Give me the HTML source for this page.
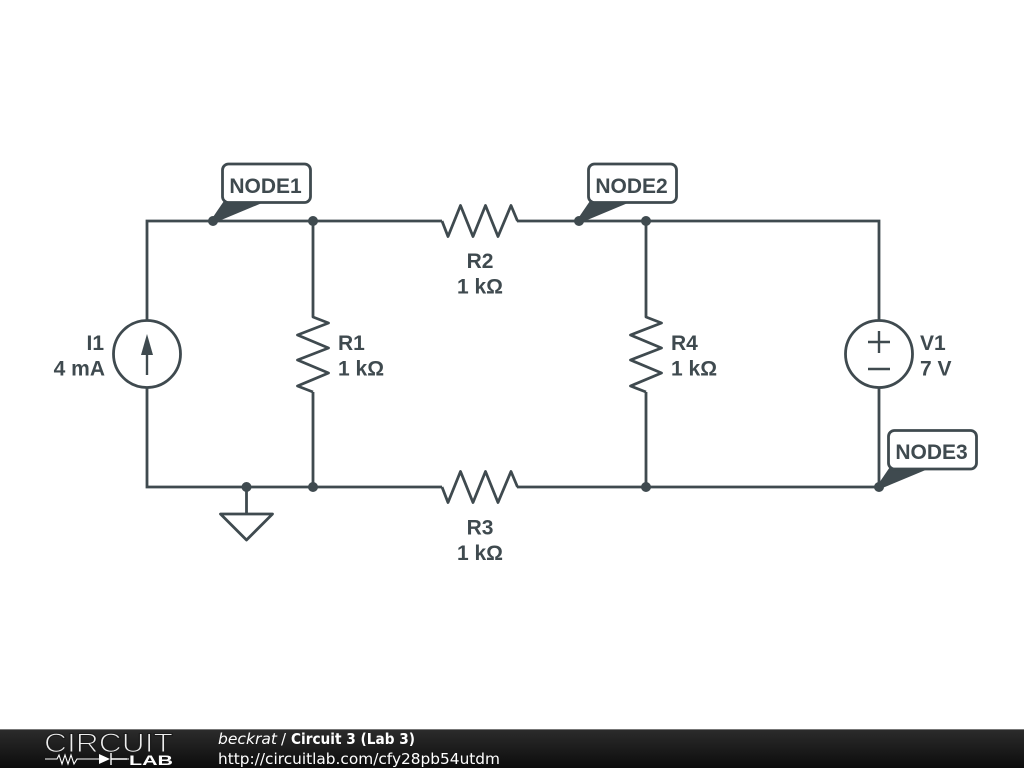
<!DOCTYPE html>
<html>
<head>
<meta charset="utf-8">
<style>
html,body{margin:0;padding:0;background:#fff;width:1024px;height:768px;overflow:hidden}
svg{display:block}
.l{font-family:"Liberation Sans",sans-serif;font-weight:bold;font-size:21px;fill:#3f4a4f}
.f{font-family:"DejaVu Sans",sans-serif;font-size:15px;fill:#fff}
</style>
</head>
<body>
<svg width="1024" height="768" viewBox="0 0 1024 768" xmlns="http://www.w3.org/2000/svg">
<defs>
<linearGradient id="g" x1="0" y1="0" x2="0" y2="1"><stop offset="0" stop-color="#2c2c2c"/><stop offset="1" stop-color="#0c0c0c"/></linearGradient>
</defs>
<rect width="1024" height="768" fill="#fff"/>
<g fill="none" stroke="#3f4a4f" stroke-width="2.800" stroke-linejoin="round">
<path d="M147 320V221H442M517 221H879V320M147 388V487H442M517 487H879V388" stroke-linejoin="miter"/>
<path d="M313 221V316M313 392V487M646 221V316M646 392V487"/>
<path d="M442 221L448 236.500L460.500 205.500L473 236.500L485.500 205.500L498 236.500L511 205.500L517.500 221"/>
<path d="M442 487L448 502.500L460.500 471.500L473 502.500L485.500 471.500L498 502.500L511 471.500L517.500 487"/>
<path d="M313 316V317L328.500 323L297.500 335L328.500 348L297.500 360L328.500 373L297.500 386L313 392"/>
<path d="M646 316V317L661.500 323L630.500 335L661.500 348L630.500 360L661.500 373L630.500 386L646 392"/>
<circle cx="147" cy="354" r="33.500"/>
<circle cx="879" cy="354" r="33.500"/>
<path d="M879 331V353M868 342H890M868 369H890" stroke-width="2.400"/>
<path d="M147 375V345" stroke-width="2.400"/>
<path d="M246.500 487V514M220.500 514H272.500L246.500 540Z"/>
</g>
<path d="M147 334L141 355H153Z" fill="#3f4a4f"/>
<g fill="#3f4a4f">
<circle cx="213" cy="221" r="5"/><circle cx="313" cy="221" r="5"/>
<circle cx="579" cy="221" r="5"/><circle cx="646" cy="221" r="5"/>
<circle cx="246.500" cy="487" r="5"/><circle cx="313" cy="487" r="5"/>
<circle cx="646" cy="487" r="5"/><circle cx="879" cy="487" r="5"/>
<path d="M211 220L226 198H274L214 223Z"/><path d="M577 220L592 198H640L580 223Z"/><path d="M877 486L892 464H940L880 489Z"/>
</g>
<g fill="#fff" stroke="#3f4a4f" stroke-width="2.800">
<rect x="222.500" y="164" width="88" height="38.500" rx="6"/>
<rect x="588.500" y="164" width="88" height="38.500" rx="6"/>
<rect x="888.500" y="430.500" width="88" height="38.500" rx="6"/>
</g>
<text class="l" x="265.500" y="193" text-anchor="middle">NODE1</text>
<text class="l" x="631.500" y="193" text-anchor="middle">NODE2</text>
<text class="l" x="931.500" y="459" text-anchor="middle">NODE3</text>
<text class="l" x="480" y="268" text-anchor="middle">R2</text>
<text class="l" x="480" y="293.500" text-anchor="middle">1 kΩ</text>
<text class="l" x="480" y="534.500" text-anchor="middle">R3</text>
<text class="l" x="480" y="560" text-anchor="middle">1 kΩ</text>
<text class="l" x="338" y="350">R1</text>
<text class="l" x="338" y="375.500">1 kΩ</text>
<text class="l" x="671" y="350">R4</text>
<text class="l" x="671" y="375.500">1 kΩ</text>
<text class="l" x="104" y="350" text-anchor="end">I1</text>
<text class="l" x="105" y="375.500" text-anchor="end">4 mA</text>
<text class="l" x="920" y="350">V1</text>
<text class="l" x="920" y="375.500">7 V</text>
<rect x="0" y="729" width="1024" height="39" fill="url(#g)"/>
<rect x="0" y="729" width="1024" height="1" fill="#777"/>
<text x="44" y="752" font-family="'Liberation Sans',sans-serif" font-size="26.500" fill="#eee" stroke="#1c1c1c" stroke-width="1.100" textLength="129" lengthAdjust="spacingAndGlyphs">CIRCUIT</text>
<path d="M45 759H57L59 755L62 764L65 755L68 764L71 755L74 764L77 759H99M127 759H129" fill="none" stroke="#fff" stroke-width="1.100"/>
<path d="M99 754V764L110 759Z" fill="#fff"/>
<path d="M111 753V765M111 759H127" stroke="#fff" stroke-width="1.400" fill="none"/>
<text x="129" y="765" font-family="'Liberation Sans',sans-serif" font-size="14" font-weight="bold" fill="#fff" textLength="44" lengthAdjust="spacingAndGlyphs">LAB</text>
<text class="f" x="218" y="744" font-style="italic" textLength="59" lengthAdjust="spacingAndGlyphs">beckrat</text>
<text class="f" x="281" y="744">/</text>
<text class="f" x="291" y="744" font-weight="bold" textLength="124" lengthAdjust="spacingAndGlyphs">Circuit 3 (Lab 3)</text>
<text class="f" x="218" y="764" textLength="282" lengthAdjust="spacingAndGlyphs">http://circuitlab.com/cfy28pb54utdm</text>
</svg>
</body>
</html>
